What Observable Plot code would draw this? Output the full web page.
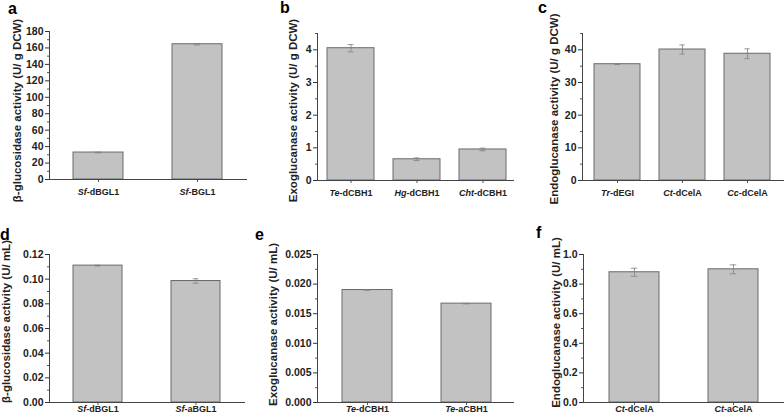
<!DOCTYPE html>
<html><head><meta charset="utf-8">
<script src="https://cdn.jsdelivr.net/npm/d3@7"></script>
<script src="https://cdn.jsdelivr.net/npm/@observablehq/plot@0.6"></script>
<style>
body{margin:0;background:#fff;}
#root{position:relative;width:784px;height:419px;overflow:hidden;background:#fff;font-family:"Liberation Sans",Arial,sans-serif;}
.pl{position:absolute;}
.lt{position:absolute;font-weight:bold;font-size:16px;line-height:1;}
</style></head><body><div id="root"></div>
<script>
// Panel a
const catsA = ["Sf-dBGL1", "Sf-BGL1"];
const valsA = [32.8, 164.5];
const errA = [0.4, 0.8];
const ticksA = [0, 20, 40, 60, 80, 100, 120, 140, 160, 180];
const minorA = [10, 30, 50, 70, 90, 110, 130, 150, 170];
// Panel b
const catsB = ["Te-dCBH1", "Hg-dCBH1", "Cht-dCBH1"];
const valsB = [4.05, 0.65, 0.95];
const errB = [0.11, 0.04, 0.04];
const ticksB = [0, 1, 2, 3, 4];
const minorB = [0.5, 1.5, 2.5, 3.5, 4.5];
// Panel c
const catsC = ["Tr-dEGI", "Ct-dCelA", "Cc-dCelA"];
const valsC = [35.6, 40.1, 38.8];
const errC = [0.1, 1.4, 1.5];
const ticksC = [0, 10, 20, 30, 40];
const minorC = [5, 15, 25, 35, 45];
// Panel d
const catsD = ["Sf-dBGL1", "Sf-aBGL1"];
const valsD = [0.111, 0.0985];
const errD = [0.0003, 0.0018];
const ticksD = [0, 0.02, 0.04, 0.06, 0.08, 0.10, 0.12];
const minorD = [0.01, 0.03, 0.05, 0.07, 0.09, 0.11];
// Panel e
const catsE = ["Te-dCBH1", "Te-aCBH1"];
const valsE = [0.0190, 0.0167];
const errE = [0.00004, 0.00004];
const ticksE = [0, 0.005, 0.010, 0.015, 0.020, 0.025];
const minorE = [0.0025, 0.0075, 0.0125, 0.0175, 0.0225];
// Panel f
const catsF = ["Ct-dCelA", "Ct-aCelA"];
const valsF = [0.88, 0.90];
const errF = [0.027, 0.03];
const ticksF = [0, 0.2, 0.4, 0.6, 0.8, 1.0];
const minorF = [0.1, 0.3, 0.5, 0.7, 0.9];

const panels = [
  {letter:"a", cats:catsA, vals:valsA, errs:errA, ticks:ticksA, minor:minorA, fmt:d3.format("d"), ymax:180,
   title:"β-glucosidase activity (U/ g DCW)", left:0, top:0, width:255, height:210, ml:49, mr:8, mt:31, mb:31,
   range:[48.25,246.25], pi:0.5, tdx:-32, tdy:5, xpad:6, lx:8, ly:1},
  {letter:"b", cats:catsB, vals:valsB, errs:errB, ticks:ticksB, minor:minorB, fmt:d3.format("d"), ymax:4.5,
   title:"Exoglucanase activity (U/ g DCW)", left:255, top:0, width:260, height:210, ml:62, mr:1, mt:33, mb:30,
   range:[61.9,260.6], pi:0.29, tdx:-24, tdy:3.5, xpad:6, lx:280, ly:0},
  {letter:"c", cats:catsC, vals:valsC, errs:errC, ticks:ticksC, minor:minorC, fmt:d3.format("d"), ymax:45,
   title:"Endoglucanase activity (U/ g DCW)", left:515, top:0, width:269, height:210, ml:67, mr:0, mt:33, mb:30,
   range:[68,265.5], pi:0.29, tdx:-28, tdy:2, xpad:6, lx:538, ly:0},
  {letter:"d", cats:catsD, vals:valsD, errs:errD, ticks:ticksD, minor:minorD, fmt:d3.format(".2f"), ymax:0.12,
   title:"β-glucosidase activity (U/ mL)", left:0, top:210, width:255, height:209, ml:49, mr:10, mt:44, mb:17,
   range:[48.25,245.25], pi:0.5, tdx:-43, tdy:-7, xpad:0, lx:0, ly:227},
  {letter:"e", cats:catsE, vals:valsE, errs:errE, ticks:ticksE, minor:minorE, fmt:d3.format(".3f"), ymax:0.025,
   title:"Exoglucanase activity (U/ mL)", left:255, top:210, width:260, height:209, ml:62, mr:1, mt:44, mb:17,
   range:[62.5,260.5], pi:0.5, tdx:-44, tdy:-4, xpad:0, lx:255, ly:227},
  {letter:"f", cats:catsF, vals:valsF, errs:errF, ticks:ticksF, minor:minorF, fmt:d3.format(".1f"), ymax:1.0,
   title:"Endoglucanase activity (U/ mL)", left:515, top:210, width:269, height:209, ml:68, mr:0, mt:44, mb:17,
   range:[69.5,267.5], pi:0.5, tdx:-27.5, tdy:-6, xpad:0, lx:536, ly:225}
];

const root = document.getElementById("root");
const FONT = '"Liberation Sans", Arial, sans-serif';

for (const p of panels) {
  const data = p.cats.map((c, i) => ({name: c, value: p.vals[i], err: p.errs[i]}));
  const step = (p.range[1] - p.range[0]) / p.cats.length;
  const bw = step * (1 - p.pi);
  const capInset = Math.max(0, (bw - 6) / 2);
  const svg = Plot.plot({
    width: p.width, height: p.height,
    marginLeft: p.ml, marginRight: p.mr, marginTop: p.mt, marginBottom: p.mb,
    style: {fontFamily: FONT, fontWeight: "bold", background: "white", color: "#222"},
    x: {type: "band", domain: p.cats, range: p.range, paddingInner: p.pi, paddingOuter: p.pi / 2, label: null},
    y: {domain: [0, p.ymax], label: null},
    marks: [
      Plot.barY(data, {x: "name", y: "value", fill: "#c2c2c2", stroke: "#6a6a6a", strokeWidth: 1}),
      Plot.ruleX(data, {x: "name", y1: d => d.value - d.err, y2: d => d.value + d.err, stroke: "#808080", strokeWidth: 0.8}),
      Plot.tickY(data, {x: "name", y: d => d.value - d.err, stroke: "#808080", strokeWidth: 0.8, insetLeft: capInset, insetRight: capInset}),
      Plot.tickY(data, {x: "name", y: d => d.value + d.err, stroke: "#808080", strokeWidth: 0.8, insetLeft: capInset, insetRight: capInset}),
      Plot.axisY({ticks: p.ticks, tickFormat: p.fmt, tickSize: 4, tickPadding: 2, fontSize: 10.5, label: null, stroke: "#333"}),
      Plot.axisY({ticks: p.minor, tickFormat: () => "", tickSize: 2, label: null, stroke: "#555"}),
      Plot.axisX({tickSize: 3, tickPadding: p.xpad, fontSize: 9, label: null, stroke: "#555"}),
      Plot.ruleY([0], {stroke: "#444", strokeWidth: 1}),
      Plot.frame({anchor: "left", stroke: "#444", strokeWidth: 1}),
      Plot.text([p.title], {frameAnchor: "left", rotate: -90, dx: p.tdx, dy: p.tdy, textAnchor: "middle", lineAnchor: "middle", fontSize: 11.5, fontWeight: "bold", fill: "#222"})
    ]
  });
  // italicise the organism prefix in the category labels
  svg.querySelectorAll('g[aria-label="x-axis tick label"] text').forEach(t => {
    const s = t.textContent;
    const k = s.indexOf("-");
    if (k > 0) {
      t.textContent = "";
      const a = document.createElementNS("http://www.w3.org/2000/svg", "tspan");
      a.setAttribute("font-style", "italic");
      a.textContent = s.slice(0, k);
      const b = document.createElementNS("http://www.w3.org/2000/svg", "tspan");
      b.textContent = s.slice(k);
      t.appendChild(a); t.appendChild(b);
    }
  });
  svg.classList.add("pl");
  svg.style.left = p.left + "px";
  svg.style.top = p.top + "px";
  root.appendChild(svg);
  const L = document.createElement("div");
  L.className = "lt";
  L.textContent = p.letter;
  L.style.left = p.lx + "px";
  L.style.top = p.ly + "px";
  root.appendChild(L);
}
</script></body></html>
